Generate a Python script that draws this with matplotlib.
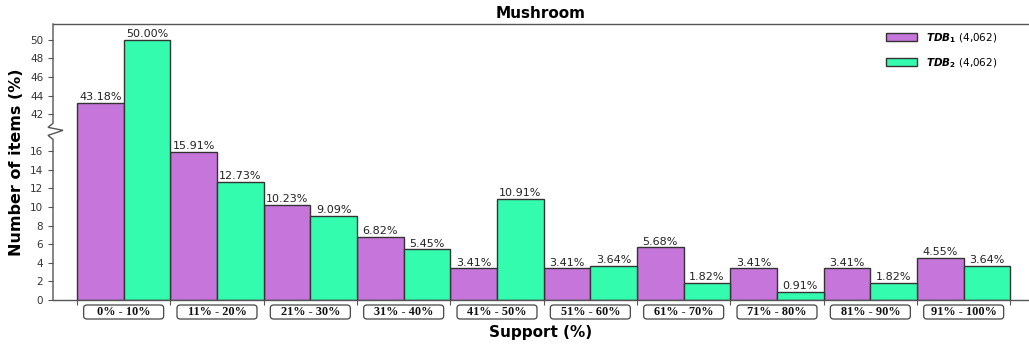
import numpy as np
import matplotlib
matplotlib.use("Agg")
import matplotlib.pyplot as plt
from matplotlib.patches import FancyBboxPatch
from matplotlib.transforms import blended_transform_factory

# ---- data -------------------------------------------------------------
support_bins = ["0% - 10%", "11% - 20%", "21% - 30%", "31% - 40%", "41% - 50%",
                "51% - 60%", "61% - 70%", "71% - 80%", "81% - 90%", "91% - 100%"]
tdb1 = [43.18, 15.91, 10.23, 6.82, 3.41, 3.41, 5.68, 3.41, 3.41, 4.55]
tdb2 = [50.00, 12.73, 9.09, 5.45, 10.91, 3.64, 1.82, 0.91, 1.82, 3.64]
tdb1_label = r"$\mathbfit{TDB}_\mathbf{1}$ (4,062)"
tdb2_label = r"$\mathbfit{TDB}_\mathbf{2}$ (4,062)"
yticks = [0, 2, 4, 6, 8, 10, 12, 14, 16, 42, 44, 46, 48, 50]

COLOR1 = "#c675da"
COLOR2 = "#34fcae"
EDGE = "#333333"

# ---- broken y scale: 0-16 and 42-50 on the same axis -------------------
LOW, HIGH, GAP = 16.0, 42.0, 4.0


def fwd(v):
    v = np.asarray(v, dtype=float)
    return np.where(v <= LOW, v,
                    np.where(v >= HIGH, v - HIGH + LOW + GAP,
                             LOW + (v - LOW) * GAP / (HIGH - LOW)))


def inv(t):
    t = np.asarray(t, dtype=float)
    return np.where(t <= LOW, t,
                    np.where(t >= LOW + GAP, t - LOW - GAP + HIGH,
                             LOW + (t - LOW) * (HIGH - LOW) / GAP))


fig = plt.figure(figsize=(10.29, 3.45), dpi=100)
ax = fig.add_axes([53 / 1029, 1 - 300 / 345, 1 - 53 / 1029, 276 / 345])
ax.set_yscale("function", functions=(fwd, inv))

x = np.arange(len(support_bins))
b1 = ax.bar(x, tdb1, width=0.5, align="edge", color=COLOR1, edgecolor=EDGE,
            linewidth=1.0, label=tdb1_label)
b2 = ax.bar(x + 0.5, tdb2, width=0.5, align="edge", color=COLOR2, edgecolor=EDGE,
            linewidth=1.0, label=tdb2_label)

for bars, vals in ((b1, tdb1), (b2, tdb2)):
    for rect, v in zip(bars, vals):
        ax.annotate(f"{v:.2f}%", (rect.get_x() + rect.get_width() / 2, v),
                    xytext=(0, 0.5), textcoords="offset points",
                    ha="center", va="bottom", fontsize=8, color="#222222")

ax.set_xlim(-0.257, 10.2)
ax.set_ylim(0, 51.7)
ax.set_yticks(yticks)
ax.tick_params(axis="y", labelsize=7.5, labelcolor="#333333", color="#555555",
               length=3.5, width=0.8)
ax.set_xticks(np.arange(len(support_bins) + 1))
ax.set_xticklabels([])
ax.tick_params(axis="x", color="#555555", length=3.5, width=0.8)

for side in ("top", "bottom"):
    ax.spines[side].set_color("#555555")
    ax.spines[side].set_linewidth(1.0)
ax.spines["right"].set_visible(False)
ax.spines["left"].set_visible(False)

# left spine with a zigzag marking the break
y_lo, y_hi = ax.get_ylim()
t_lo, t_hi = fwd(y_lo), fwd(y_hi)
mid = float((LOW + GAP / 2 - t_lo) / (t_hi - t_lo)) + 0.005
px_x = 1.0 / (ax.get_position().width * fig.get_figwidth() * fig.dpi)
px_y = 1.0 / (ax.get_position().height * fig.get_figheight() * fig.dpi)
zig = [(0, 8), (-5, 4), (10, 1), (-5, -4), (0, -8)]
zx = [0] + [dx * px_x for dx, dy in zig] + [0]
zy = [1] + [mid + dy * px_y for dx, dy in zig] + [0]
ax.plot(zx, zy, transform=ax.transAxes, color="#555555", lw=1.0, clip_on=False,
        solid_joinstyle="miter")

# group labels in rounded boxes under each pair of bars
btr = blended_transform_factory(ax.transData, ax.transAxes)
box_w = 0.857
box_h = 14 * px_y
box_y = -19 * px_y
for i, lab in enumerate(support_bins):
    cx = i + 0.5
    ax.add_patch(FancyBboxPatch((cx - box_w / 2, box_y), box_w, box_h,
                                boxstyle="round,pad=0,rounding_size=0.035",
                                mutation_aspect=0.33,
                                transform=btr, clip_on=False,
                                facecolor="white", edgecolor="#444444", lw=0.9))
    ax.text(cx, box_y + box_h / 2, lab, transform=btr, ha="center", va="center",
            fontsize=8.8, fontweight="bold", family="Liberation Serif",
            color="#111111")

ax.set_xlabel("Support (%)", fontsize=11, fontweight="bold")
ax.xaxis.set_label_coords(0.5, -25 * px_y)
ax.set_ylabel("Number of items (%)", fontsize=11.5, fontweight="bold", labelpad=4)
ax.set_title("Mushroom", fontsize=11, fontweight="bold", pad=4.5)

ax.legend(loc="upper right", bbox_to_anchor=(0.977, 1.008), frameon=False,
          fontsize=7.5, handlelength=2.9, handleheight=0.8, labelspacing=1.1,
          handletextpad=0.9)

fig.savefig("out.png", dpi=100)
